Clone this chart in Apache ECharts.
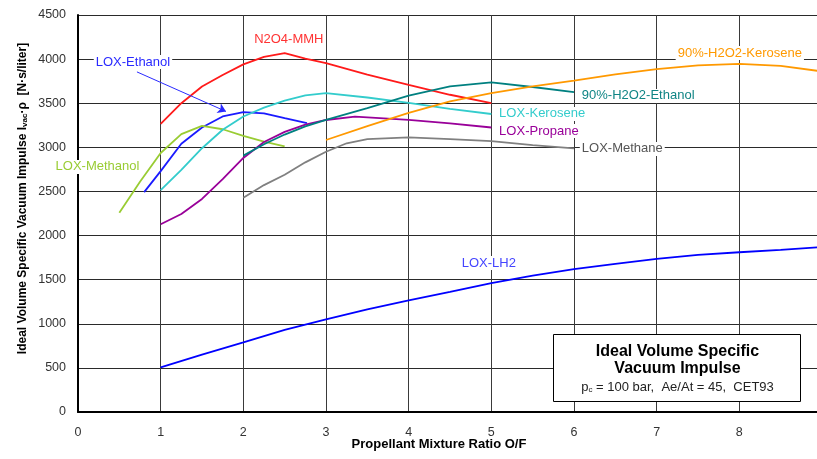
<!DOCTYPE html>
<html><head><meta charset="utf-8">
<script src="https://cdn.jsdelivr.net/npm/echarts@6/dist/echarts.min.js"></script>
<style>html,body{margin:0;padding:0;background:#fff}#c{width:817px;height:459px}</style>
</head><body><div id="c"></div>
<script>
// ---- data ----
const xMin = 0, xMax = 9, xStep = 1;
const yMin = 0, yMax = 4500, yStep = 500;

const n2o4mmhX = [1, 1.25, 1.5, 1.75, 2, 2.25, 2.5, 2.75, 3, 3.5, 4, 4.5, 5];
const n2o4mmhY = [3267, 3500, 3690, 3820, 3940, 4025, 4068, 4005, 3955, 3825, 3708, 3596, 3500];

const loxEthanolX = [0.8, 1, 1.25, 1.5, 1.75, 2, 2.25, 2.5, 2.77];
const loxEthanolY = [2492, 2730, 3040, 3225, 3350, 3400, 3385, 3330, 3275];

const loxMethanolX = [0.5, 0.75, 1, 1.25, 1.5, 1.75, 2, 2.25, 2.5];
const loxMethanolY = [2259, 2610, 2936, 3150, 3244, 3205, 3130, 3065, 3011];

const loxKeroseneX = [1, 1.25, 1.5, 1.75, 2, 2.25, 2.5, 2.75, 3, 3.5, 4, 4.5, 5];
const loxKeroseneY = [2515, 2745, 2990, 3199, 3350, 3450, 3530, 3590, 3615, 3565, 3505, 3435, 3378];

const loxPropaneX = [1, 1.25, 1.5, 1.75, 2, 2.25, 2.5, 2.75, 3, 3.35, 4, 4.5, 5];
const loxPropaneY = [2128, 2245, 2415, 2640, 2880, 3060, 3175, 3258, 3310, 3348, 3312, 3272, 3225];

const h2o2EthanolX = [2, 2.25, 2.5, 2.75, 3, 3.5, 4, 4.5, 5, 5.5, 6];
const h2o2EthanolY = [2906, 3035, 3145, 3237, 3312, 3445, 3585, 3690, 3736, 3684, 3625];

const h2o2KeroseneX = [3, 3.5, 4, 4.5, 5, 5.5, 6, 6.5, 7, 7.5, 8, 8.5, 8.95];
const h2o2KeroseneY = [3083, 3240, 3390, 3520, 3614, 3690, 3755, 3826, 3886, 3928, 3947, 3924, 3867];

const loxMethaneX = [2, 2.25, 2.5, 2.75, 3, 3.25, 3.5, 4, 4.5, 5, 5.5, 6];
const loxMethaneY = [2428, 2572, 2690, 2830, 2950, 3046, 3094, 3114, 3094, 3071, 3026, 2988];

const loxLh2X = [1, 1.5, 2, 2.5, 3, 3.5, 4, 4.5, 5, 5.5, 6, 6.5, 7, 7.5, 8, 8.5, 8.95];
const loxLh2Y = [507, 650, 788, 930, 1050, 1163, 1264, 1361, 1462, 1545, 1620, 1680, 1736, 1781, 1811, 1837, 1867];

const seriesNames = ['N2O4-MMH', 'LOX-Ethanol', 'LOX-Methanol', 'LOX-Kerosene', 'LOX-Propane',
  '90%-H2O2-Ethanol', '90%-H2O2-Kerosene', 'LOX-Methane', 'LOX-LH2'];

// ---- styles / annotation placement ----
const FONT = "'Liberation Sans', Arial, sans-serif";
const seriesColors = ['#ff1a1a', '#1a1aff', '#99cc33', '#33cccc', '#990099', '#008080', '#ff9900', '#808080', '#0000ff'];
const labelColors  = ['#ff3333', '#2a2aff', '#99cc33', '#33cccc', '#990099', '#108585', '#ff9900', '#555555', '#4444ff'];
// label anchors in data coordinates + alignment
const labelAnchor = [[2.55, 4218], [0.665, 3968], [0.236, 2778], [5.07, 3379], [5.07, 3186],
  [6.07, 3583], [7.23, 4070], [6.07, 2982], [4.97, 1689]];
const labelAlign = ['center', 'center', 'center', 'left', 'left', 'left', 'left', 'left', 'center'];
const arrowFrom = [0.713, 3855], arrowTo = [1.79, 3407];

const xs = [n2o4mmhX, loxEthanolX, loxMethanolX, loxKeroseneX, loxPropaneX, h2o2EthanolX, h2o2KeroseneX, loxMethaneX, loxLh2X];
const ys = [n2o4mmhY, loxEthanolY, loxMethanolY, loxKeroseneY, loxPropaneY, h2o2EthanolY, h2o2KeroseneY, loxMethaneY, loxLh2Y];

const series = seriesNames.map((name, i) => {
  const s = {
    name, type: 'line', showSymbol: false, symbol: 'none', smooth: false,
    data: xs[i].map((x, k) => [x, ys[i][k]]),
    lineStyle: { color: seriesColors[i], width: 1.8 },
    itemStyle: { color: seriesColors[i] },
    z: 3
  };
  if (name === 'LOX-Ethanol') {
    s.markLine = {
      silent: true, animation: false, symbol: ['none', 'arrow'], symbolSize: 8,
      label: { show: false },
      lineStyle: { color: '#2a2aff', width: 1, type: 'solid' },
      itemStyle: { color: '#2a2aff' },
      data: [[{ coord: arrowFrom }, { coord: arrowTo }]]
    };
  }
  return s;
});

const chart = echarts.init(document.getElementById('c'), null, { renderer: 'canvas' });
const option = {
  animation: false,
  backgroundColor: '#fff',
  textStyle: { fontFamily: FONT },
  grid: { left: 78, right: -5, top: 15, bottom: 47, containLabel: false, outerBoundsMode: 'none' },
  xAxis: {
    type: 'value', min: xMin, max: xMax, interval: xStep,
    name: 'Propellant Mixture Ratio O/F', nameLocation: 'middle', nameGap: 26, nameMoveOverlap: false,
    nameTextStyle: { fontFamily: FONT, fontWeight: 'bold', fontSize: 13, color: '#000', padding: [0, 22, 0, 0] },
    axisLine: { show: true, lineStyle: { color: '#000', width: 2 } },
    axisTick: { show: false },
    axisLabel: { color: '#333', fontSize: 12.5, fontFamily: FONT, margin: 14 },
    splitLine: { show: true, lineStyle: { color: '#3a3a3a', width: 1 } }
  },
  yAxis: {
    type: 'value', min: yMin, max: yMax, interval: yStep,
    name: 'Ideal Volume Specific Vacuum Impulse I{sub|vac}·ρ  [N·s/liter]',
    nameLocation: 'middle', nameGap: 49, nameMoveOverlap: false,
    nameTextStyle: { fontFamily: FONT, fontWeight: 'bold', fontSize: 12, color: '#000', padding: [0, 0, 0, 30],
      rich: { sub: { fontFamily: FONT, fontWeight: 'bold', fontSize: 8, color: '#000', verticalAlign: 'bottom', padding: [4, 0, 0, 0] } } },
    axisLine: { show: true, lineStyle: { color: '#000', width: 2 } },
    axisTick: { show: false },
    axisLabel: { color: '#333', fontSize: 12.5, fontFamily: FONT, margin: 12, formatter: v => String(v) },
    splitLine: { show: true, lineStyle: { color: '#2a2a2a', width: 1 } }
  },
  series
};
chart.setOption(option);

// annotations (series labels, info box), positioned via axis scales
const graphics = seriesNames.map((name, i) => {
  const p = chart.convertToPixel({ gridIndex: 0 }, labelAnchor[i]);
  return {
    type: 'text', x: p[0], y: p[1], z: 100,
    style: { text: name, fill: labelColors[i], font: '13px ' + FONT, align: labelAlign[i], verticalAlign: 'middle',
      backgroundColor: '#fff', padding: [1, 2, 0, 2] }
  };
});
graphics.push({
  type: 'group', left: 553, top: 334, z: 100,
  children: [
    { type: 'rect', shape: { x: 0, y: 0, width: 247, height: 67 }, style: { fill: '#fff', stroke: '#000', lineWidth: 1 } },
    { type: 'text', x: 124, y: 17, style: { text: 'Ideal Volume Specific', font: 'bold 16px ' + FONT, fill: '#000', align: 'center', verticalAlign: 'middle' } },
    { type: 'text', x: 124, y: 34, style: { text: 'Vacuum Impulse', font: 'bold 16px ' + FONT, fill: '#000', align: 'center', verticalAlign: 'middle' } },
    { type: 'text', x: 124, y: 53, style: {
        text: 'p{s|c} = 100 bar,  Ae/At = 45,  CET93', font: '13px ' + FONT, fill: '#222', align: 'center', verticalAlign: 'middle',
        rich: { s: { fontSize: 8, fontFamily: FONT, fill: '#222', verticalAlign: 'bottom' } } } }
  ]
});
chart.setOption({ graphic: graphics });
</script>
</body></html>
